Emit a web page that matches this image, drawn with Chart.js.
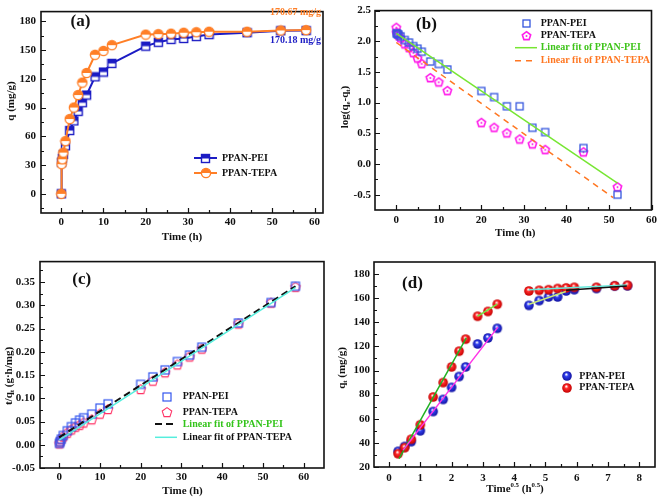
<!DOCTYPE html>
<html>
<head>
<meta charset="utf-8">
<script src="https://cdn.jsdelivr.net/npm/chart.js@4.4.1/dist/chart.umd.min.js"></script>
<style>
  html, body { margin: 0; padding: 0; background: #fff; }
  #wrap { position: relative; width: 661px; height: 499px; overflow: hidden; }
  canvas { position: absolute; }
</style>
</head>
<body>
<div id="wrap">
  <canvas id="ca" width="330" height="250" style="left:0;top:0"></canvas>
  <canvas id="cb" width="331" height="250" style="left:330px;top:0"></canvas>
  <canvas id="cc" width="330" height="249" style="left:0;top:250px"></canvas>
  <canvas id="cd" width="331" height="249" style="left:330px;top:250px"></canvas>
</div>
<script>
"use strict";

// (a) adsorption vs time
const TIME_A = [0, 0.083, 0.25, 0.5, 1, 2, 3, 4, 5, 6, 8, 10, 12, 20, 23, 26, 29, 32, 35, 44, 52, 58];
const Q_PEI = [0, 33, 37, 41, 50, 66, 76, 86, 95, 103, 122, 127, 136, 154, 158, 161, 162, 164, 166, 168, 170, 170.2];
const Q_TEPA = [0, 31, 36, 43, 55, 78, 90, 103, 116, 126, 145, 149, 155, 166, 166.5, 167, 168, 168.5, 169, 169, 170.3, 170.7];
const A_X_TICKS = [0, 10, 20, 30, 40, 50, 60];
const A_Y_TICKS = [0, 30, 60, 90, 120, 150, 180];

// (b) pseudo-first-order
const B_TIME_PEI = [0.083, 0.25, 0.5, 1, 2, 3, 4, 5, 6, 8, 10, 12, 20, 23, 26, 29, 32, 35, 44, 52];
const B_PEI = [2.13, 2.12, 2.11, 2.08, 2.02, 1.98, 1.92, 1.88, 1.83, 1.67, 1.63, 1.54, 1.19, 1.09, 0.94, 0.94, 0.59, 0.52, 0.26, -0.5];
const B_TIME_TEPA = [0, 0.083, 0.25, 0.5, 1, 2, 3, 4, 5, 6, 8, 10, 12, 20, 23, 26, 29, 32, 35, 44, 52];
const B_TEPA = [2.23, 2.15, 2.13, 2.1, 2.06, 1.96, 1.9, 1.82, 1.73, 1.64, 1.41, 1.34, 1.2, 0.68, 0.6, 0.51, 0.41, 0.33, 0.24, 0.2, -0.37];
const B_FIT_PEI_X = [0, 52];
const B_FIT_PEI_Y = [2.13, -0.31];
const B_FIT_TEPA_X = [0, 51];
const B_FIT_TEPA_Y = [1.98, -0.55];
const B_X_TICKS = [0, 10, 20, 30, 40, 50, 60];
const B_Y_TICKS = [-0.5, 0, 0.5, 1, 1.5, 2, 2.5];

// (c) pseudo-second-order
const C_TIME = [0.083, 0.25, 0.5, 1, 2, 3, 4, 5, 6, 8, 10, 12, 20, 23, 26, 29, 32, 35, 44, 52, 58];
const C_PEI = [0.003, 0.007, 0.012, 0.02, 0.03, 0.039, 0.047, 0.053, 0.058, 0.066, 0.079, 0.088, 0.13, 0.146, 0.161, 0.179, 0.193, 0.21, 0.262, 0.306, 0.341];
const C_TEPA = [0.003, 0.007, 0.012, 0.018, 0.026, 0.033, 0.039, 0.043, 0.048, 0.055, 0.067, 0.077, 0.12, 0.138, 0.156, 0.173, 0.19, 0.207, 0.261, 0.306, 0.34];
const C_FIT_PEI_X = [0, 58];
const C_FIT_PEI_Y = [0.016, 0.341];
const C_FIT_TEPA_X = [0, 58];
const C_FIT_TEPA_Y = [0.01, 0.338];
const C_X_TICKS = [0, 10, 20, 30, 40, 50, 60];
const C_Y_TICKS = [-0.05, 0, 0.05, 0.1, 0.15, 0.2, 0.25, 0.3, 0.35];

// (d) intraparticle diffusion
const D_SQRT_T = [0.29, 0.5, 0.71, 1, 1.41, 1.73, 2, 2.24, 2.45, 2.83, 3.16, 3.46, 4.47, 4.8, 5.1, 5.39, 5.66, 5.92, 6.63, 7.21, 7.62];
const D_PEI = [33, 37, 41, 50, 66, 76, 86, 95, 103, 122, 127, 135, 154, 158, 161, 161, 166, 167, 168, 170, 170.2];
const D_TEPA = [31, 36, 43, 55, 78, 90, 103, 116, 126, 145, 149, 155, 166, 166.5, 167, 168, 168.5, 169, 169, 170.3, 170.7];
const D_FITS = [
  { x: [0.45, 3.48], y: [34, 136], color: "#ff33e6" },
  { x: [0.32, 2.47], y: [27, 127], color: "#22b022" },
  { x: [2.83, 3.46], y: [145, 155], color: "#77e040" },
  { x: [4.48, 5.65], y: [155, 165.5], color: "#c8e878" },
  { x: [5.66, 7.6], y: [166.5, 170], color: "#111111" },
  { x: [4.47, 7.6], y: [167, 171], color: "#66eadc" },
];
const D_X_TICKS = [0, 1, 2, 3, 4, 5, 6, 7, 8];
const D_Y_TICKS = [20, 40, 60, 80, 100, 120, 140, 160, 180];

const FONT = '"Liberation Serif", "Times New Roman", serif';
const INK = "#111";
const BLUE_A = "#1c1cc4";
const ORANGE_A = "#ff7f27";

const pts = (xs, ys) => xs.map((x, i) => ({ x, y: ys[i] }));

function makeMarker(size, draw) {
  const c = document.createElement("canvas");
  c.width = size; c.height = size;
  draw(c.getContext("2d"), size / 2);
  return c;
}

const halfSquare = makeMarker(11, (g, c) => {
  const s = 8, o = c - s / 2;
  g.fillStyle = "#fff"; g.fillRect(o, o, s, s);
  g.fillStyle = BLUE_A; g.fillRect(o, o, s, s / 2);
  g.strokeStyle = BLUE_A; g.lineWidth = 1.4; g.strokeRect(o, o, s, s);
});

const halfCircle = makeMarker(12, (g, c) => {
  const r = 4.6;
  g.fillStyle = "#fff"; g.beginPath(); g.arc(c, c, r, 0, Math.PI * 2); g.fill();
  g.fillStyle = ORANGE_A; g.beginPath(); g.arc(c, c, r, Math.PI, Math.PI * 2); g.closePath(); g.fill();
  g.strokeStyle = ORANGE_A; g.lineWidth = 1.4; g.beginPath(); g.arc(c, c, r, 0, Math.PI * 2); g.stroke();
});

function hollowSquare(side, color, lw) {
  return makeMarker(side + 4, (g, c) => {
    g.strokeStyle = color; g.lineWidth = lw;
    g.strokeRect(c - side / 2, c - side / 2, side, side);
  });
}

function pentagon(r, color, lw, dot) {
  return makeMarker(Math.ceil(r * 2 + 4), (g, c) => {
    g.strokeStyle = color; g.lineWidth = lw;
    g.beginPath();
    for (let i = 0; i < 5; i++) {
      const a = -Math.PI / 2 + i * 2 * Math.PI / 5;
      const px = c + r * Math.cos(a), py = c + 0.6 + r * Math.sin(a);
      if (i === 0) g.moveTo(px, py); else g.lineTo(px, py);
    }
    g.closePath(); g.stroke();
    if (dot) { g.fillStyle = color; g.beginPath(); g.arc(c, c + 0.6, 1, 0, Math.PI * 2); g.fill(); }
  });
}

function ball(base, dark) {
  return makeMarker(12, (g, c) => {
    const r = 4.8;
    const grad = g.createRadialGradient(c - 0.8, c - 1.8, 0.3, c, c, r);
    grad.addColorStop(0, "#ffffff");
    grad.addColorStop(0.35, base);
    grad.addColorStop(1, dark);
    g.fillStyle = grad; g.beginPath(); g.arc(c, c, r, 0, Math.PI * 2); g.fill();
  });
}

const sqB = hollowSquare(7, "#3355dd", 1.3);
const pentB = pentagon(4.4, "#ff1eea", 1.6, true);
const sqC = hollowSquare(8, "#3355ee", 1.2);
const pentC = pentagon(5, "#ff3366", 1.1, false);
const ballBlue = ball("#3040ee", "#1212a0");
const ballRed = ball("#ff2a2a", "#c40000");

// "q_{t}" -> subscript, "h^{0.5}" -> superscript
function parseRich(str) {
  const out = [];
  const re = /([_^])\{([^}]*)\}|([^_^]+)/g;
  let m;
  while ((m = re.exec(str))) {
    if (m[3]) out.push({ t: m[3] });
    else out.push({ t: m[2], sub: m[1] === "_", sup: m[1] === "^" });
  }
  return out;
}

function drawRich(ctx, str, x, y, size, rot) {
  const segs = parseRich(str);
  const fontOf = (s) => `bold ${s}px ${FONT}`;
  ctx.save();
  ctx.translate(x, y);
  if (rot) ctx.rotate(-Math.PI / 2);
  let w = 0;
  for (const s of segs) {
    ctx.font = fontOf(s.sub || s.sup ? size * 0.62 : size);
    w += ctx.measureText(s.t).width;
  }
  let cx = -w / 2;
  ctx.textAlign = "left";
  ctx.textBaseline = "middle";
  ctx.fillStyle = INK;
  for (const s of segs) {
    ctx.font = fontOf(s.sub || s.sup ? size * 0.62 : size);
    const dy = s.sub ? size * 0.3 : s.sup ? -size * 0.35 : 0;
    ctx.fillText(s.t, cx, dy);
    cx += ctx.measureText(s.t).width;
  }
  ctx.restore();
}

function tickSet(scale) {
  const majors = scale.ticks.map((t) => t.value);
  const step = majors[1] - majors[0];
  const lo = Math.min(scale.min, scale.max), hi = Math.max(scale.min, scale.max);
  const out = majors.map((v) => [v, 5]);
  for (let v = majors[0] - step / 2; v < hi; v += step) {
    if (v > lo + 1e-9) out.push([v, 3]);
  }
  return out;
}

function deco(spec) {
  return {
    id: "deco",
    afterDraw(chart) {
      const { ctx, chartArea: a, scales } = chart;
      ctx.save();
      ctx.strokeStyle = INK;
      ctx.lineWidth = 1.2;
      ctx.beginPath();
      for (const [v, len] of tickSet(scales.x)) {
        const p = Math.round(scales.x.getPixelForValue(v)) + 0.5;
        ctx.moveTo(p, a.bottom); ctx.lineTo(p, a.bottom - len);
      }
      for (const [v, len] of tickSet(scales.y)) {
        const p = Math.round(scales.y.getPixelForValue(v)) + 0.5;
        ctx.moveTo(a.left, p); ctx.lineTo(a.left + len, p);
      }
      ctx.stroke();
      ctx.lineWidth = 1.6;
      ctx.strokeRect(a.left, a.top, a.right - a.left, a.bottom - a.top);

      for (const it of spec.legend) {
        if (it.line) {
          ctx.save();
          ctx.strokeStyle = it.line;
          ctx.lineWidth = it.lw || 1.5;
          ctx.setLineDash(it.dash || []);
          ctx.beginPath();
          ctx.moveTo(it.x0, it.y); ctx.lineTo(it.x1, it.y);
          ctx.stroke();
          ctx.restore();
        }
        if (it.marker) {
          const m = it.marker;
          ctx.drawImage(m, Math.round(it.mx - m.width / 2), Math.round(it.y - m.height / 2));
        }
        ctx.font = `bold 10px ${FONT}`;
        ctx.textAlign = "left";
        ctx.textBaseline = "middle";
        ctx.fillStyle = it.color || INK;
        ctx.fillText(it.text, it.tx, it.y);
      }
      for (const n of spec.notes || []) {
        ctx.font = `bold ${n.size}px ${FONT}`;
        ctx.textAlign = n.align || "center";
        ctx.textBaseline = "middle";
        ctx.fillStyle = n.color || INK;
        ctx.fillText(n.text, n.x, n.y);
      }
      drawRich(ctx, spec.xTitle.text, spec.xTitle.x, spec.xTitle.y, 11, false);
      drawRich(ctx, spec.yTitle.text, spec.yTitle.x, spec.yTitle.y, 11, true);
      ctx.restore();
    },
  };
}

function axis(min, max, ticks, fit, pad, fmt, isX) {
  return {
    type: "linear",
    min, max,
    afterBuildTicks: (s) => { s.ticks = ticks.map((v) => ({ value: v })); },
    afterFit: (s) => { if (isX) s.height = fit; else s.width = fit; },
    grid: { display: false, drawTicks: false },
    border: { display: false },
    ticks: {
      padding: pad,
      autoSkip: false,
      maxRotation: 0,
      color: INK,
      font: { family: FONT, size: 11, weight: "bold" },
      callback: fmt || ((v) => v),
    },
  };
}

function makeChart(id, box, datasets, scales, spec) {
  return new Chart(document.getElementById(id), {
    type: "line",
    data: { datasets },
    options: {
      responsive: false,
      animation: false,
      events: [],
      layout: { padding: { left: 0, right: box.r, top: box.t, bottom: 0 } },
      plugins: { legend: { display: false }, tooltip: { enabled: false } },
      scales,
    },
    plugins: [deco(spec)],
  });
}

const scatter = (data, marker) => ({ data, showLine: false, pointStyle: marker, pointRadius: 5 });
const fitLine = (data, color, dash, lw) => ({
  data, borderColor: color, borderWidth: lw || 1.5, borderDash: dash || [], pointRadius: 0, tension: 0,
});

// (a)
makeChart("ca", { r: 7, t: 4 }, [
  { data: pts(TIME_A, Q_TEPA), borderColor: ORANGE_A, borderWidth: 2, pointStyle: halfCircle, pointRadius: 5, tension: 0 },
  { data: pts(TIME_A, Q_PEI), borderColor: BLUE_A, borderWidth: 2, pointStyle: halfSquare, pointRadius: 5, tension: 0 },
], {
  x: axis(-4.8, 62, A_X_TICKS, 37, 3, null, true),
  y: axis(-20, 190, A_Y_TICKS, 41, 5, null, false),
}, {
  legend: [
    { line: BLUE_A, lw: 2, x0: 194, x1: 217, y: 158, marker: halfSquare, mx: 205.5, text: "PPAN-PEI", tx: 222 },
    { line: ORANGE_A, lw: 2, x0: 194, x1: 217, y: 173, marker: halfCircle, mx: 205.5, text: "PPAN-TEPA", tx: 222 },
  ],
  notes: [
    { text: "(a)", x: 80.5, y: 21.7, size: 17 },
    { text: "170.67 mg/g", x: 321, y: 12.7, size: 10, align: "right", color: ORANGE_A },
    { text: "170.18 mg/g", x: 321, y: 40, size: 10, align: "right", color: BLUE_A },
  ],
  xTitle: { text: "Time (h)", x: 182, y: 237 },
  yTitle: { text: "q (mg/g)", x: 11, y: 101 },
});

// (b)
makeChart("cb", { r: 6, t: 4 }, [
  fitLine(pts(B_FIT_PEI_X, B_FIT_PEI_Y), "#77e633", [], 1.5),
  fitLine(pts(B_FIT_TEPA_X, B_FIT_TEPA_Y), "#ff7722", [6, 5], 1.5),
  scatter(pts(B_TIME_PEI, B_PEI), sqB),
  scatter(pts(B_TIME_TEPA, B_TEPA), pentB),
], {
  x: axis(-5, 60, B_X_TICKS, 40, 4, null, true),
  y: axis(-0.75, 2.5, B_Y_TICKS, 45, 4, (v) => v.toFixed(1), false),
}, {
  legend: [
    { marker: sqB, mx: 196.7, y: 23, text: "PPAN-PEI", tx: 210.7 },
    { marker: pentB, mx: 196.7, y: 35, text: "PPAN-TEPA", tx: 210.7 },
    { line: "#77e633", x0: 185, x1: 207, y: 47.7, text: "Linear fit of PPAN-PEI", tx: 210.7, color: "#3fc41a" },
    { line: "#ff7722", dash: [6, 5], x0: 185, x1: 207, y: 60.7, text: "Linear fit of PPAN-TEPA", tx: 210.7, color: "#ff7722" },
  ],
  notes: [{ text: "(b)", x: 96.5, y: 25, size: 17 }],
  xTitle: { text: "Time (h)", x: 185.3, y: 232.7 },
  yTitle: { text: "log(q_{e}-q_{t})", x: 15, y: 107 },
});

// (c)
makeChart("cc", { r: 5, t: 2 }, [
  fitLine(pts(C_FIT_TEPA_X, C_FIT_TEPA_Y), "#55eedd", [], 1.5),
  fitLine(pts(C_FIT_PEI_X, C_FIT_PEI_Y), "#111111", [7, 4], 2),
  scatter(pts(C_TIME, C_PEI), sqC),
  scatter(pts(C_TIME, C_TEPA), pentC),
], {
  x: axis(-4.7, 65, C_X_TICKS, 31, 3, null, true),
  y: axis(-0.05, 0.394, C_Y_TICKS, 40, 5, (v) => v.toFixed(2), false),
}, {
  legend: [
    { marker: sqC, mx: 166.7, y: 146.7, text: "PPAN-PEI", tx: 182.7 },
    { marker: pentC, mx: 166.7, y: 162.3, text: "PPAN-TEPA", tx: 182.7 },
    { line: "#111111", lw: 2, dash: [7, 4], x0: 155, x1: 177, y: 174, text: "Linear fit of PPAN-PEI", tx: 182.7, color: "#33c41a" },
    { line: "#55eedd", x0: 155, x1: 177, y: 187.3, text: "Linear fit of PPAN-TEPA", tx: 182.7 },
  ],
  notes: [{ text: "(c)", x: 81.7, y: 29.3, size: 17 }],
  xTitle: { text: "Time (h)", x: 182.5, y: 240.7 },
  yTitle: { text: "t/q_{t} (g·h/mg)", x: 9, y: 126 },
});

// (d)
makeChart("cd", { r: 6, t: 12 }, [
  ...D_FITS.map((f) => fitLine(pts(f.x, f.y), f.color, [], 1.5)),
  scatter(pts(D_SQRT_T, D_TEPA), ballRed),
  scatter(pts(D_SQRT_T, D_PEI), ballBlue),
], {
  x: axis(-0.48, 8.5, D_X_TICKS, 32, 5, null, true),
  y: axis(20, 190, D_Y_TICKS, 44, 4, null, false),
}, {
  legend: [
    { marker: ballBlue, mx: 237.3, y: 126, text: "PPAN-PEI", tx: 249.3 },
    { marker: ballRed, mx: 237.3, y: 137.7, text: "PPAN-TEPA", tx: 249.3 },
  ],
  notes: [{ text: "(d)", x: 82.5, y: 33.3, size: 17 }],
  xTitle: { text: "Time^{0.5} (h^{0.5})", x: 185, y: 239.3 },
  yTitle: { text: "q_{t} (mg/g)", x: 12, y: 118 },
});
</script>
</body>
</html>
